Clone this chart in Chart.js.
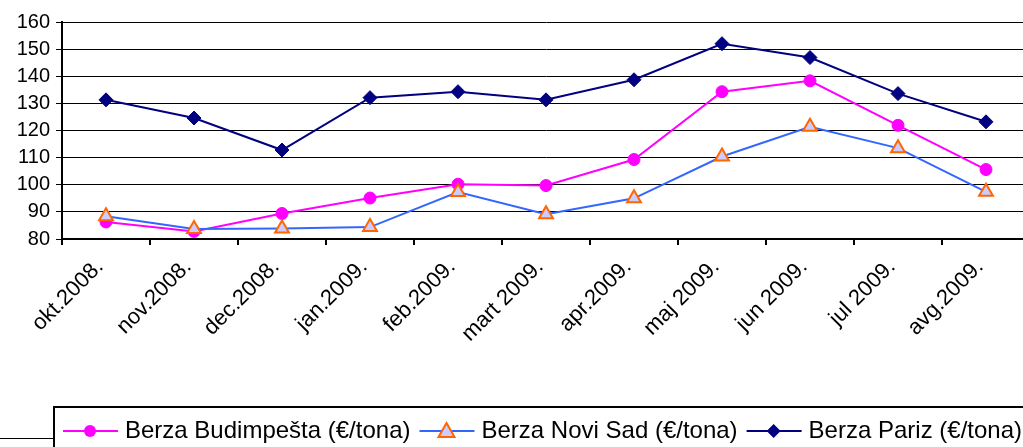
<!DOCTYPE html>
<html>
<head>
<meta charset="utf-8">
<script src="https://cdn.jsdelivr.net/npm/chart.js@4/dist/chart.umd.min.js"></script>
<style>
  html, body { margin: 0; padding: 0; background: #fff; overflow: hidden; }
  #wrap { position: relative; width: 1040px; height: 447px; }
</style>
</head>
<body>
<div id="wrap"><canvas id="priceChart"></canvas></div>
<script>
// months on the x axis
const months = ['okt.2008.', 'nov.2008.', 'dec.2008.', 'jan.2009.', 'feb.2009.', 'mart 2009.',
  'apr.2009.', 'maj 2009.', 'jun 2009.', 'jul 2009.', 'avg.2009.'];

// prices, €/tona
const budimpesta = [86.3, 82.8, 89.4, 95.1, 100.2, 99.7, 109.3, 134.3, 138.3, 121.9, 105.6];
const noviSad = [88.4, 83.7, 83.9, 84.4, 97.3, 89.1, 95.0, 110.4, 121.4, 113.5, 97.4];
const pariz = [131.3, 124.6, 112.8, 132.1, 134.3, 131.3, 138.7, 152.0, 146.9, 133.6, 123.2];

const seriesNames = ['Berza Budimpešta (€/tona)', 'Berza Novi Sad (€/tona)', 'Berza Pariz (€/tona)'];

const FONT = '"Liberation Sans", Arial, sans-serif';

// legend drawn like the excel box at the bottom
const boxLegend = {
  id: 'boxLegend',
  afterDraw(chart) {
    const ctx = chart.ctx;
    ctx.save();
    // outer frame remnant
    ctx.strokeStyle = '#000';
    ctx.lineWidth = 1;
    ctx.beginPath();
    ctx.moveTo(0, 438.5);
    ctx.lineTo(53, 438.5);
    ctx.stroke();
    // legend box
    ctx.lineWidth = 2;
    ctx.strokeRect(54, 407, 1100, 60);

    ctx.font = '24px ' + FONT;
    ctx.textBaseline = 'middle';
    ctx.textAlign = 'left';
    const cy = 431;
    let x = 63;
    chart.data.datasets.forEach(ds => {
      ctx.strokeStyle = ds.borderColor;
      ctx.lineWidth = 2;
      ctx.beginPath();
      ctx.moveTo(x, cy);
      ctx.lineTo(x + 55, cy);
      ctx.stroke();
      const mx = x + 27;
      ctx.fillStyle = ds.pointBackgroundColor;
      ctx.strokeStyle = ds.pointBorderColor;
      ctx.lineWidth = ds.pointBorderWidth;
      ctx.beginPath();
      if (ds.pointStyle === 'circle') {
        ctx.arc(mx, cy, 6, 0, Math.PI * 2);
        ctx.fill();
      } else if (ds.pointStyle === 'triangle') {
        ctx.moveTo(mx, cy - 8);
        ctx.lineTo(mx + 8, cy + 6);
        ctx.lineTo(mx - 8, cy + 6);
        ctx.closePath();
        ctx.fill();
        ctx.stroke();
      } else {
        ctx.moveTo(mx, cy - 7);
        ctx.lineTo(mx + 7, cy);
        ctx.lineTo(mx, cy + 7);
        ctx.lineTo(mx - 7, cy);
        ctx.closePath();
        ctx.fill();
      }
      ctx.fillStyle = '#000';
      ctx.fillText(ds.label, x + 62, cy);
      x += 62 + ctx.measureText(ds.label).width + 9;
    });
    ctx.restore();
  }
};

new Chart(document.getElementById('priceChart'), {
  type: 'line',
  data: {
    labels: months,
    datasets: [
      {
        label: seriesNames[0],
        data: budimpesta,
        borderColor: '#ff00ff',
        borderWidth: 2,
        pointStyle: 'circle',
        pointRadius: 6,
        pointBackgroundColor: '#ff00ff',
        pointBorderColor: '#ff00ff',
        pointBorderWidth: 1,
        order: 3
      },
      {
        label: seriesNames[1],
        data: noviSad,
        borderColor: '#3366ff',
        borderWidth: 2,
        pointStyle: 'triangle',
        pointRadius: 8,
        pointBackgroundColor: '#ccccff',
        pointBorderColor: '#ff6600',
        pointBorderWidth: 2,
        order: 2
      },
      {
        label: seriesNames[2],
        data: pariz,
        borderColor: '#000080',
        borderWidth: 2,
        pointStyle: 'rectRot',
        pointRadius: 7,
        pointBackgroundColor: '#000080',
        pointBorderColor: '#000080',
        pointBorderWidth: 1,
        order: 1
      }
    ]
  },
  options: {
    responsive: true,
    maintainAspectRatio: false,
    animation: false,
    layout: { padding: { top: 22, right: 0, left: 0, bottom: 0 } },
    plugins: {
      legend: { display: false },
      tooltip: { enabled: false }
    },
    scales: {
      x: {
        offset: true,
        grid: {
          offset: true,
          drawOnChartArea: false,
          drawTicks: true,
          tickLength: 6,
          tickColor: '#000',
          lineWidth: 2
        },
        border: { color: '#000', width: 2 },
        ticks: {
          color: '#000',
          font: { family: FONT, size: 22 },
          minRotation: 45,
          maxRotation: 45,
          autoSkip: false,
          padding: 9,
          labelOffset: -6
        },
        afterFit(scale) { scale.height = 208; }
      },
      y: {
        min: 80,
        max: 160,
        grid: {
          color: '#000',
          lineWidth: 1,
          tickLength: 6,
          tickColor: '#000'
        },
        border: { color: '#000', width: 2 },
        ticks: {
          stepSize: 10,
          color: '#000',
          font: { family: FONT, size: 20 },
          padding: 6
        },
        afterFit(scale) { scale.width = 62; }
      }
    }
  },
  plugins: [boxLegend]
});
</script>
</body>
</html>
